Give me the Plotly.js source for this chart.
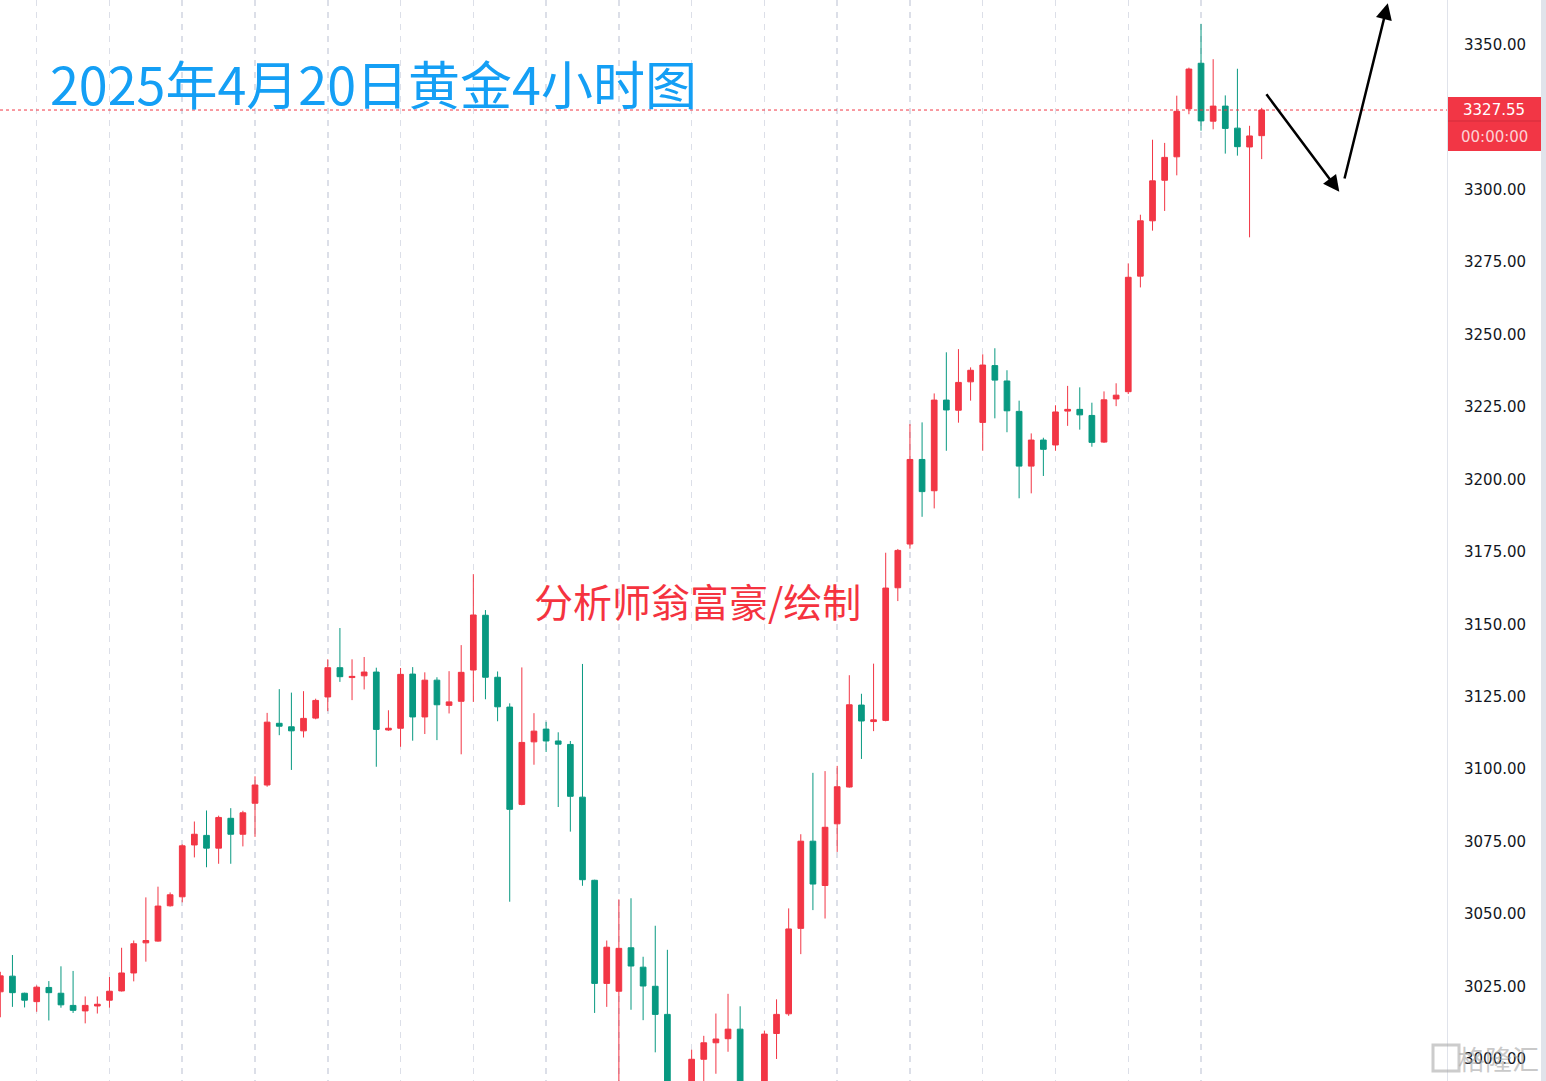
<!DOCTYPE html>
<html>
<head>
<meta charset="utf-8">
<script src="https://cdn.plot.ly/plotly-3.0.1.min.js"></script>
<style>
  html, body { margin: 0; padding: 0; background: #ffffff; }
  #chart { width: 1546px; height: 1081px; }
</style>
</head>
<body>
<div id="chart"></div>
<script>
// 4-hour gold candles (XAUUSD)
const openP = [
  3023.1, 3028.5, 3022.6, 3019.7, 3024.6, 3022.6, 3018.4, 3016.5, 3018.2, 3020.2,
  3023.4, 3029.6, 3040.0, 3040.6, 3052.8, 3055.9, 3073.8, 3077.1, 3072.7, 3083.0,
  3077.5, 3088.2, 3094.5, 3115.8, 3114.6, 3113.2, 3117.6, 3124.9, 3135.0, 3131.6,
  3132.2, 3133.5, 3113.5, 3114.1, 3132.8, 3118.0, 3130.7, 3122.0, 3123.4, 3134.2,
  3153.1, 3131.7, 3121.4, 3087.8, 3109.4, 3113.8, 3109.7, 3108.5, 3090.3, 3061.6,
  3026.0, 3023.3, 3038.3, 3031.6, 3025.0, 3015.3, 2985.0, 2980.0, 2999.8, 3005.5,
  3006.9, 3010.2, 2985.0, 2988.0, 3008.7, 3015.5, 3045.0, 3075.1, 3059.8, 3081.1,
  3093.8, 3122.1, 3116.4, 3116.8, 3162.6, 3177.7, 3206.9, 3196.1, 3227.4, 3223.9,
  3233.7, 3219.7, 3239.3, 3234.0, 3223.5, 3204.6, 3213.6, 3211.9, 3223.6, 3224.2,
  3222.1, 3212.9, 3227.8, 3230.3, 3270.2, 3289.3, 3303.3, 3311.4, 3328.0, 3343.7,
  3323.7, 3328.9, 3321.3, 3314.8, 3318.7
];
const highP = [
  3030.0, 3035.8, 3022.8, 3025.3, 3026.8, 3031.9, 3030.3, 3021.5, 3021.5, 3028.2,
  3038.3, 3040.8, 3055.7, 3059.4, 3057.4, 3074.0, 3081.9, 3085.7, 3083.9, 3086.5,
  3085.6, 3097.5, 3119.4, 3127.6, 3126.4, 3126.9, 3124.3, 3137.9, 3148.7, 3137.9,
  3138.7, 3135.0, 3120.3, 3134.9, 3135.2, 3133.4, 3131.7, 3133.8, 3142.8, 3167.3,
  3154.9, 3133.7, 3122.7, 3135.1, 3119.3, 3116.3, 3112.7, 3109.7, 3136.3, 3061.8,
  3040.8, 3055.0, 3055.4, 3035.2, 3045.9, 3037.6, 2989.0, 3003.1, 3007.9, 3015.6,
  3022.4, 3018.1, 2991.0, 3009.7, 3020.5, 3051.9, 3077.5, 3098.7, 3099.3, 3101.1,
  3132.4, 3126.0, 3136.4, 3174.7, 3176.0, 3219.1, 3219.7, 3229.7, 3243.9, 3245.0,
  3238.7, 3243.2, 3245.3, 3237.7, 3227.2, 3215.9, 3214.4, 3225.6, 3232.3, 3231.8,
  3226.5, 3230.4, 3233.2, 3274.6, 3291.4, 3317.3, 3316.2, 3332.5, 3342.2, 3357.3,
  3345.1, 3332.6, 3341.8, 3322.1, 3328.3
];
const lowP = [
  3014.3, 3017.9, 3017.7, 3016.2, 3013.2, 3017.6, 3015.8, 3012.2, 3015.6, 3017.6,
  3023.2, 3026.7, 3033.5, 3040.4, 3052.5, 3054.0, 3069.5, 3066.1, 3067.3, 3067.3,
  3073.3, 3076.6, 3093.9, 3111.7, 3099.7, 3110.9, 3117.2, 3120.0, 3130.1, 3123.8,
  3127.5, 3100.8, 3113.2, 3107.7, 3109.8, 3112.1, 3110.0, 3119.2, 3105.1, 3123.2,
  3124.1, 3116.5, 3054.2, 3087.5, 3101.5, 3105.9, 3086.9, 3078.4, 3059.7, 3015.8,
  3017.9, 2988.0, 3016.9, 3013.3, 3002.2, 2975.0, 2957.0, 2972.0, 2988.0, 2994.8,
  3002.4, 2980.0, 2972.0, 2982.0, 2999.9, 3014.8, 3036.1, 3051.3, 3048.4, 3071.4,
  3093.6, 3103.5, 3113.1, 3116.5, 3158.0, 3176.1, 3187.1, 3190.0, 3209.9, 3219.6,
  3227.2, 3209.9, 3221.1, 3216.3, 3193.5, 3195.2, 3201.2, 3209.9, 3218.5, 3217.2,
  3211.3, 3212.6, 3225.3, 3229.5, 3266.3, 3285.9, 3292.7, 3305.0, 3326.1, 3320.4,
  3320.9, 3312.5, 3311.8, 3283.6, 3310.6
];
const closeP = [
  3028.6, 3022.8, 3020.2, 3024.7, 3022.8, 3018.6, 3016.7, 3018.4, 3018.8, 3023.3,
  3029.6, 3039.7, 3040.8, 3052.7, 3056.6, 3073.5, 3077.5, 3072.7, 3083.3, 3077.5,
  3084.9, 3094.5, 3116.2, 3114.8, 3113.2, 3117.5, 3123.7, 3135.0, 3131.9, 3132.0,
  3133.5, 3113.7, 3114.1, 3132.7, 3118.0, 3130.7, 3122.2, 3123.2, 3133.4, 3153.2,
  3131.7, 3121.5, 3086.1, 3109.2, 3113.1, 3109.7, 3108.6, 3090.6, 3061.8, 3026.0,
  3038.5, 3038.1, 3032.0, 3025.1, 3015.3, 2985.0, 2980.0, 2999.8, 3005.5, 3006.8,
  3010.2, 2985.0, 2988.0, 3008.5, 3015.3, 3044.8, 3075.1, 3060.3, 3079.9, 3093.9,
  3122.2, 3116.6, 3117.0, 3162.5, 3175.5, 3206.9, 3195.8, 3227.4, 3224.0, 3233.5,
  3237.7, 3239.5, 3234.3, 3223.7, 3204.6, 3213.6, 3210.4, 3223.3, 3224.2, 3222.3,
  3212.8, 3227.5, 3229.1, 3269.8, 3289.3, 3303.1, 3311.2, 3327.1, 3341.7, 3323.8,
  3328.9, 3321.2, 3314.9, 3318.6, 3327.55
];
// visible price-axis labels (3325 is hidden under the last-price tag)
const priceTicks = [3000, 3025, 3050, 3075, 3100, 3125, 3150, 3175, 3200, 3225, 3250, 3275, 3300, 3350];
const titleText = "2025年4月20日黄金4小时图";
const authorText = "分析师翁富豪/绘制";
const lastPriceText = "3327.55";
const countdownText = "00:00:00";
const watermarkText = "格隆汇";
// hand-drawn forecast arrows: [startX, startY, endX, endY] in (candle index, price)
const arrowDown = [101.3, 3333.5, 107.4, 3299.3];
const arrowUp   = [107.8, 3303.4, 111.4, 3364.4];

const firstIdx = -3;
const idx = openP.map((_, i) => i + firstIdx);
const dayTicks = idx.filter(v => v >= 0 && v % 6 === 0);
const lastClose = closeP[closeP.length - 1];

const W = 1546, H = 1081, plotW = 1447;
const px = v => v / plotW;          // pixel -> paper x
const py = v => 1 - v / H;          // pixel -> paper y

const RED = '#f23645', GREEN = '#089981';

const trace = {
  type: 'candlestick',
  x: idx, open: openP, high: highP, low: lowP, close: closeP,
  increasing: { line: { color: RED, width: 1 }, fillcolor: RED },
  decreasing: { line: { color: GREEN, width: 1 }, fillcolor: GREEN },
  whiskerwidth: 0,
  hoverinfo: 'skip'
};

const layout = {
  width: W, height: H,
  margin: { l: 0, r: W - plotW, t: 0, b: 0, pad: 0 },
  paper_bgcolor: '#ffffff',
  plot_bgcolor: '#ffffff',
  showlegend: false,
  hovermode: false,
  dragmode: false,
  boxgap: 0.33,
  xaxis: {
    range: [-3.026, 116.28],
    rangeslider: { visible: false },
    showticklabels: false,
    tickmode: 'array', tickvals: dayTicks,
    showgrid: true, gridcolor: '#dcdfe8', gridwidth: 1.5, griddash: '6px,6px',
    zeroline: false, showline: false, ticks: ''
  },
  yaxis: {
    side: 'right',
    range: [2992.3, 3365.54],
    tickmode: 'array', tickvals: priceTicks,
    tickformat: '.2f',
    showgrid: false, zeroline: false,
    showline: true, linecolor: '#e0e3eb', linewidth: 1,
    ticks: '', ticklabelstandoff: 13,
    tickfont: { family: 'DejaVu Sans, sans-serif', size: 15, color: '#131722' }
  },
  shapes: [
    // current price dotted line
    { type: 'line', xref: 'paper', yref: 'y', x0: 0, x1: 1, y0: lastClose, y1: lastClose,
      line: { color: RED, width: 1, dash: 'dot' } },
    // right edge strip
    { type: 'rect', xref: 'paper', yref: 'paper', x0: px(1541), x1: px(1546), y0: 0, y1: 1,
      line: { width: 0 }, fillcolor: '#e0e3eb', layer: 'above' },
    // price label box
    { type: 'rect', xref: 'paper', yref: 'paper', x0: px(1448), x1: px(1541), y0: py(151), y1: py(97),
      line: { width: 0 }, fillcolor: RED, layer: 'above' },
    { type: 'line', xref: 'paper', yref: 'paper', x0: px(1448), x1: px(1541), y0: py(121), y1: py(121),
      line: { width: 1, color: 'rgba(120,20,30,0.25)' }, layer: 'above' },
    // watermark icon
    { type: 'rect', xref: 'paper', yref: 'paper', x0: px(1433), x1: px(1459), y0: py(1071), y1: py(1045),
      line: { width: 3, color: 'rgba(170,170,170,0.6)' }, fillcolor: 'rgba(0,0,0,0)', layer: 'above' }
  ],
  annotations: [
    { text: titleText, xref: 'paper', yref: 'paper', x: px(48), y: py(82),
      xanchor: 'left', yanchor: 'middle', showarrow: false,
      font: { family: 'Noto Sans CJK SC, sans-serif', size: 52, color: '#149ff5' } },
    { text: authorText, xref: 'paper', yref: 'paper', x: px(532), y: py(600),
      xanchor: 'left', yanchor: 'middle', showarrow: false,
      font: { family: 'Noto Sans CJK SC, sans-serif', size: 39, color: '#f5333f' } },
    { text: lastPriceText, xref: 'paper', yref: 'paper', x: px(1494), y: py(110),
      xanchor: 'center', yanchor: 'middle', showarrow: false,
      font: { family: 'DejaVu Sans, sans-serif', size: 15, color: '#ffffff' } },
    { text: countdownText, xref: 'paper', yref: 'paper', x: px(1494), y: py(137),
      xanchor: 'center', yanchor: 'middle', showarrow: false,
      font: { family: 'DejaVu Sans, sans-serif', size: 15, color: 'rgba(255,255,255,0.78)' } },
    { text: watermarkText, xref: 'paper', yref: 'paper', x: px(1498), y: py(1058),
      xanchor: 'center', yanchor: 'middle', showarrow: false,
      font: { family: 'Noto Sans CJK SC, sans-serif', size: 27, color: 'rgba(165,165,165,0.6)' } },
    { x: arrowDown[2], y: arrowDown[3], ax: arrowDown[0], ay: arrowDown[1],
      xref: 'x', yref: 'y', axref: 'x', ayref: 'y', text: '', showarrow: true,
      arrowhead: 2, arrowsize: 1.3, arrowwidth: 2.5, arrowcolor: '#000000' },
    { x: arrowUp[2], y: arrowUp[3], ax: arrowUp[0], ay: arrowUp[1],
      xref: 'x', yref: 'y', axref: 'x', ayref: 'y', text: '', showarrow: true,
      arrowhead: 2, arrowsize: 1.3, arrowwidth: 2.5, arrowcolor: '#000000' }
  ]
};

Plotly.newPlot('chart', [trace], layout, { displayModeBar: false, staticPlot: true });
</script>
</body>
</html>
